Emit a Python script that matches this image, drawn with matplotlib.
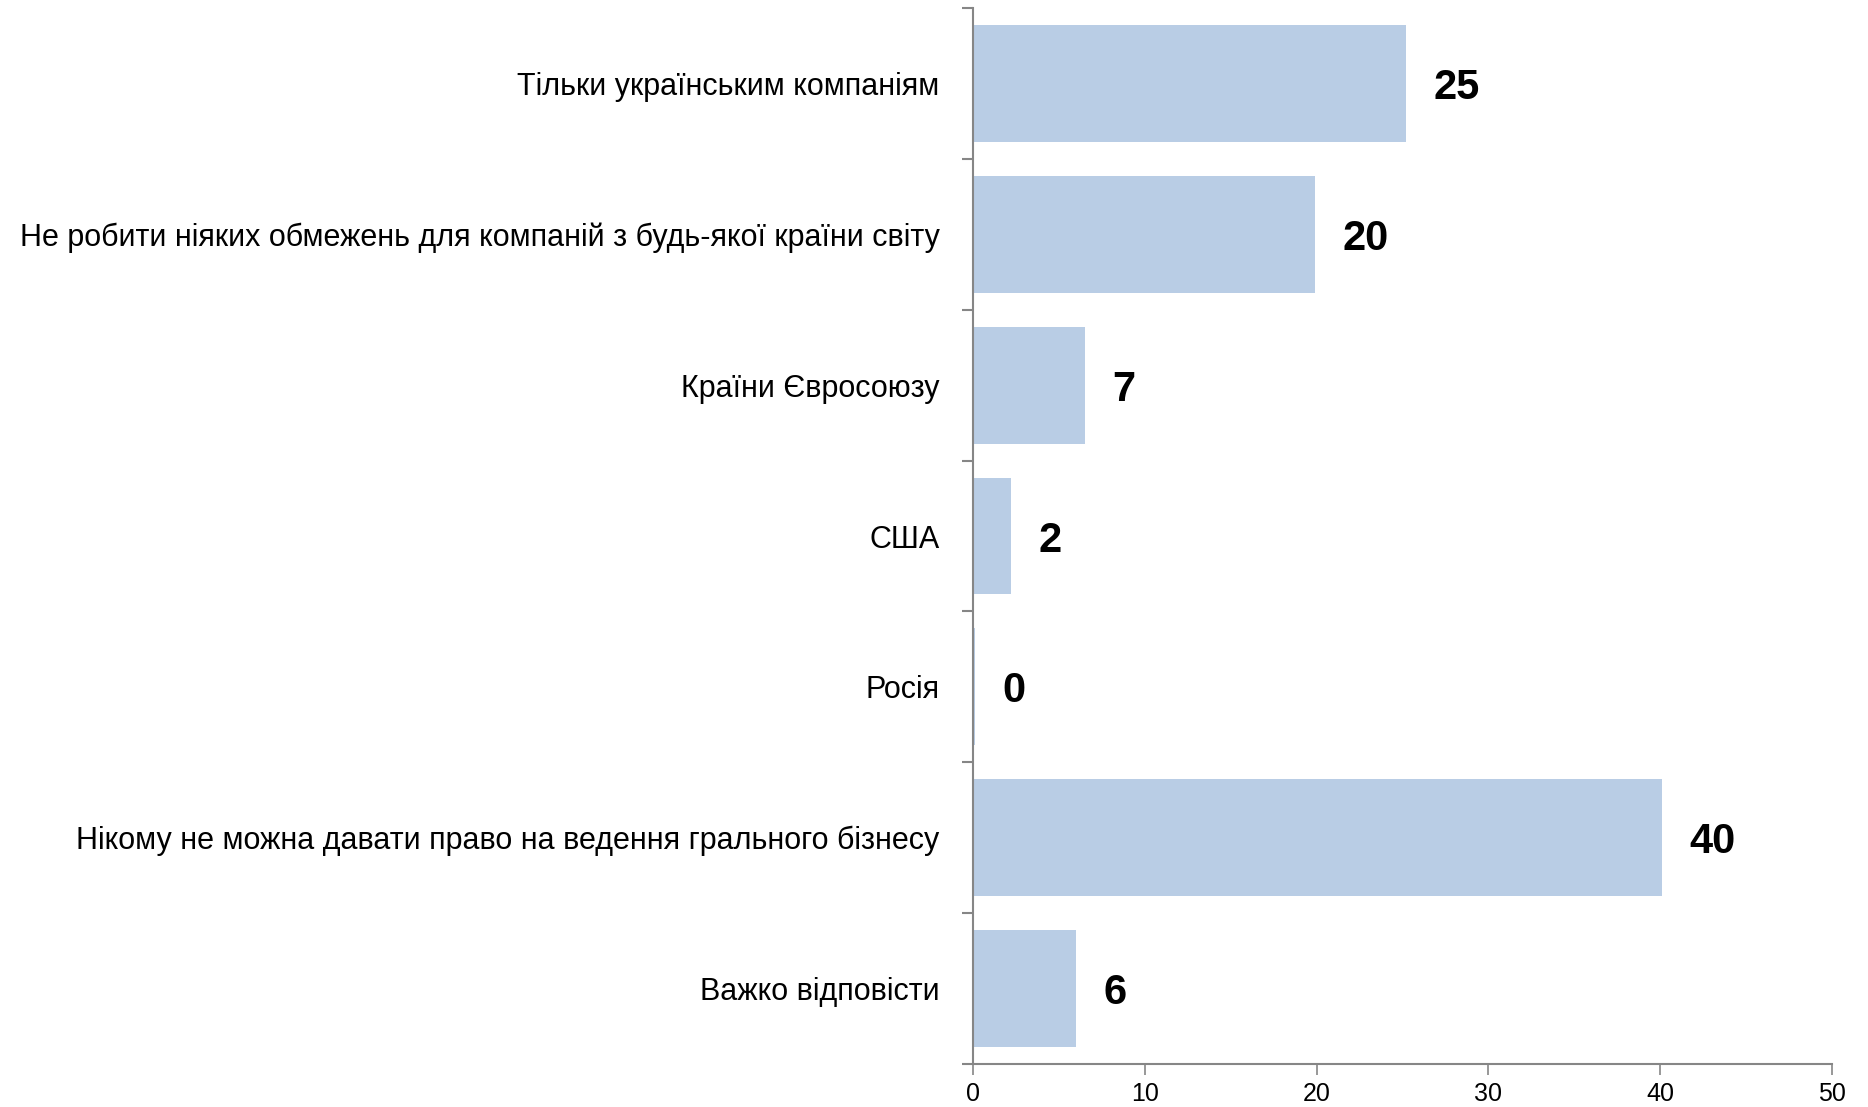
import matplotlib.pyplot as plt
import numpy as np

# categories top to bottom
cats = ['Тільки українським компаніям',
        'Не робити ніяких обмежень для компаній з будь-якої країни світу',
        'Країни Євросоюзу',
        'США',
        'Росія',
        'Нікому не можна давати право на ведення грального бізнесу',
        'Важко відповісти']
vals = [25.2, 19.9, 6.5, 2.2, 0.1, 40.1, 6.0]
shown = ['25', '20', '7', '2', '0', '40', '6']
xticks = [0, 10, 20, 30, 40, 50]

plt.rcParams['font.family'] = ['Liberation Sans', 'DejaVu Sans']

fig = plt.figure(figsize=(18.68, 11.07), dpi=100)
ax = fig.add_axes([973/1868, 1-1064/1107, (1832-973)/1868, (1064-8)/1107])

y = np.arange(len(cats))
ax.barh(y, vals, height=0.775, color='#B9CDE5')
ax.set_ylim(len(cats)-0.5, -0.5)
ax.set_xlim(0, 50)

for yi, v, s in zip(y, vals, shown):
    ax.annotate(s, (v, yi), xytext=(20, 0), textcoords='offset points',
                ha='left', va='center_baseline', fontsize=30, fontweight='bold')

ax.set_yticks(y)
ax.set_yticklabels(cats, fontsize=22)
ax.set_yticks(np.arange(len(cats)+1)-0.5, minor=True)
ax.tick_params(axis='y', which='major', length=0, pad=24)
ax.tick_params(axis='y', which='minor', length=8, width=1.5, color='#868686')
ax.set_xticks(xticks)
ax.tick_params(axis='x', length=8, width=1.2, color='#868686', labelsize=18, pad=5)

for s in ['top', 'right']:
    ax.spines[s].set_visible(False)
for s in ['left', 'bottom']:
    ax.spines[s].set_color('#868686')
    ax.spines[s].set_linewidth(1.5)

fig.savefig('out.png', dpi=100)
